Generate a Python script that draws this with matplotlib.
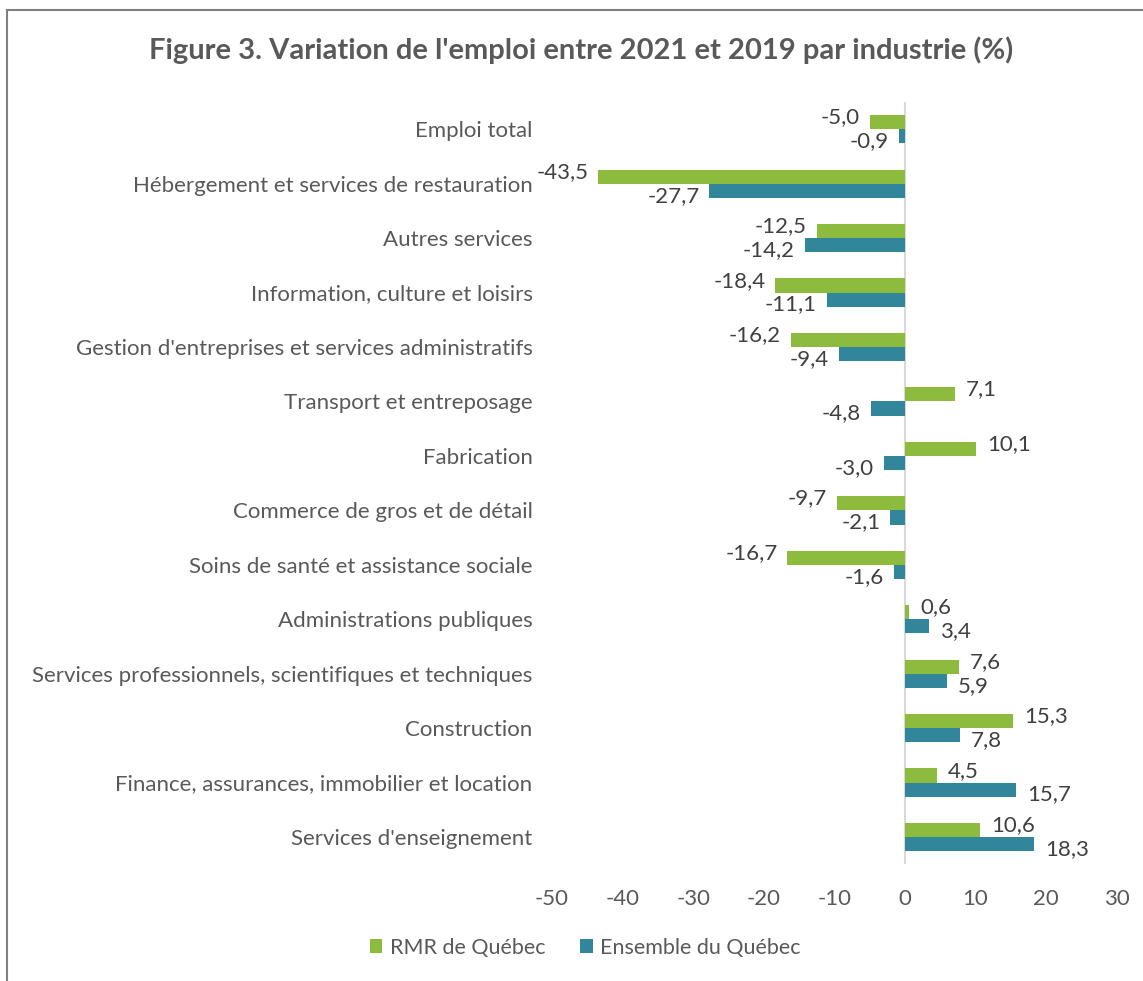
import numpy as np
import matplotlib
matplotlib.use("Agg")
import matplotlib.pyplot as plt
from matplotlib.patches import Rectangle

# data
industries = [
    "Emploi total",
    "Hébergement et services de restauration",
    "Autres services",
    "Information, culture et loisirs",
    "Gestion d'entreprises et services administratifs",
    "Transport et entreposage",
    "Fabrication",
    "Commerce de gros et de détail",
    "Soins de santé et assistance sociale",
    "Administrations publiques",
    "Services professionnels, scientifiques et techniques",
    "Construction",
    "Finance, assurances, immobilier et location",
    "Services d'enseignement",
]
rmr_quebec = [-5.0, -43.5, -12.5, -18.4, -16.2, 7.1, 10.1, -9.7, -16.7, 0.6, 7.6, 15.3, 4.5, 10.6]
ensemble_quebec = [-0.9, -27.7, -14.2, -11.1, -9.4, -4.8, -3.0, -2.1, -1.6, 3.4, 5.9, 7.8, 15.7, 18.3]
x_ticks = [-50, -40, -30, -20, -10, 0, 10, 20, 30]

green = "#8CBB3E"
blue = "#31869B"
font = "Lato"

plt.rcParams["font.family"] = [font, "DejaVu Sans"]

fig = plt.figure(figsize=(11.43, 9.81), dpi=100)
ax = fig.add_axes([0.483, 0.119, 0.494, 0.777])

y = np.arange(len(industries))
h = 0.26
ax.barh(y - h / 2, rmr_quebec, height=h, color=green, label="RMR de Québec")
ax.barh(y + h / 2, ensemble_quebec, height=h, color=blue, label="Ensemble du Québec")

# data labels outside the end of each bar, nudged apart vertically like Excel does
for series, off, dy in [(rmr_quebec, -h / 2, 3.5), (ensemble_quebec, h / 2, -3.5)]:
    for yi, v in zip(y, series):
        txt = f"{v:.1f}".replace(".", ",")
        ax.annotate(txt, (v, yi + off), xytext=(8 if v >= 0 else -7, dy),
                    textcoords="offset points", ha="left" if v >= 0 else "right",
                    va="center", fontsize=16, color="#404040")

ax.set_xlim(-50, 30)
ax.set_ylim(len(industries) - 0.5, -0.5)
ax.set_xticks(x_ticks)
ax.set_xticklabels([str(t) for t in x_ticks])
ax.set_yticks(y)
ax.set_yticklabels(industries)
ax.tick_params(axis="both", length=0, labelsize=16, colors="#595959")
ax.tick_params(axis="y", pad=14)
ax.tick_params(axis="x", pad=18)
for s in ax.spines.values():
    s.set_visible(False)
ax.axvline(0, color="#D9D9D9", lw=1.5, zorder=0)

fig.text(0.508, 0.949, "Figure 3. Variation de l'emploi entre 2021 et 2019 par industrie (%)",
         ha="center", va="center", fontsize=21, fontweight="bold", color="#595959")

fig.legend(loc="center", bbox_to_anchor=(0.512, 0.034), ncol=2, frameon=False,
           fontsize=15.5, labelcolor="#595959", handlelength=0.6, handleheight=0.6,
           handletextpad=0.35, columnspacing=1.6)

# chart frame, cut off at the right and bottom of the picture
fig.patches.append(Rectangle((7 / 1143, -0.05), 1.1, 0.05 + 971 / 981, transform=fig.transFigure,
                             fill=False, edgecolor="#7F7F7F", lw=1.5))

fig.savefig("out.png", dpi=100)
